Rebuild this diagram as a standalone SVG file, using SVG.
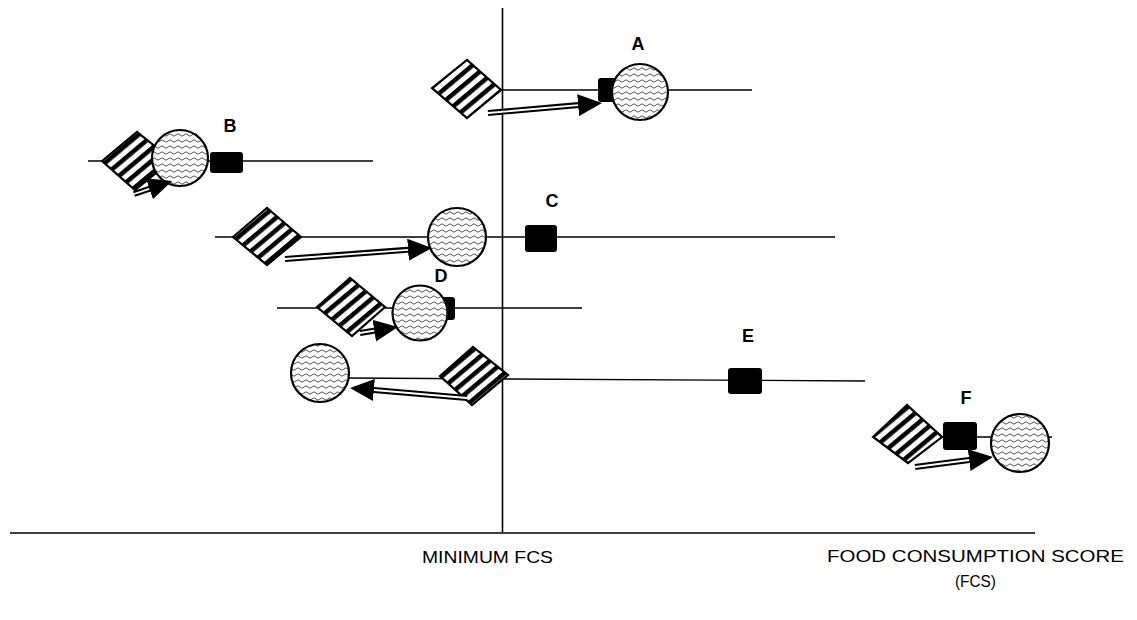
<svg xmlns="http://www.w3.org/2000/svg" width="1137" height="620" viewBox="0 0 1137 620">
<style>
.ax{stroke:#000;stroke-width:1.6;fill:none}
.hl{stroke:#000;stroke-width:1.4;fill:none}
.dia{fill:url(#stripes);stroke:#000;stroke-width:2.2;stroke-linejoin:miter}
.cir{fill:url(#waves);stroke:#000;stroke-width:2.2}
.sq{fill:#000}
.sh{stroke:#000;stroke-width:6;fill:none}
.sw{stroke:#fff;stroke-width:1.8;fill:none}
.lab{font-family:"Liberation Sans",Arial,sans-serif;font-weight:bold;font-size:18px;fill:#000;text-anchor:middle}
.cap{font-family:"Liberation Sans",Arial,sans-serif;font-size:17px;fill:#000}
</style>
<defs>
<pattern id="stripes" patternUnits="userSpaceOnUse" width="20" height="9.5" patternTransform="rotate(-40)">
<rect width="20" height="9.5" fill="#fff"/>
<rect y="0" width="20" height="4.5" fill="#000"/>
</pattern>
<pattern id="waves" patternUnits="userSpaceOnUse" width="8" height="6">
<rect width="8" height="6" fill="#fff"/>
<path d="M0,3 Q2,0.6 4,3 T8,3" stroke="#222" stroke-width="0.8" fill="none"/>
</pattern>
<marker id="head" markerUnits="userSpaceOnUse" markerWidth="24" markerHeight="22" viewBox="0 0 24 22" refX="6" refY="11" orient="auto">
<path d="M0,0 L24,11 L0,22 z" fill="#000"/>
</marker>
</defs>

<g id="axes">
<line class="ax" x1="502.5" y1="8" x2="502.5" y2="532"/>
<line class="ax" x1="10" y1="533" x2="1035" y2="533"/>
</g>

<g id="lines">
<line class="hl" x1="500" y1="90" x2="752" y2="90"/>
<line class="hl" x1="88" y1="161" x2="373" y2="161"/>
<line class="hl" x1="215" y1="237" x2="835" y2="237"/>
<line class="hl" x1="277" y1="308" x2="582" y2="308"/>
<line class="hl" x1="347" y1="378" x2="865" y2="381"/>
<line class="hl" x1="875" y1="437" x2="1052" y2="437"/>
</g>

<g id="nodeA">
<rect class="sq" x="598" y="78" width="28" height="24" rx="3"/>
<polygon class="dia" points="432,88 467,60 501,90 467,118"/>
<circle class="cir" cx="640" cy="92" r="28"/>
<text class="lab" x="638" y="50">A</text>
</g>

<g id="nodeB">
<polygon class="dia" points="102,161 137,132 172,160 135,190"/>
<circle class="cir" cx="180" cy="158" r="28"/>
<rect class="sq" x="210" y="152" width="33" height="21" rx="3"/>
<text class="lab" x="230" y="132">B</text>
</g>

<g id="nodeC">
<polygon class="dia" points="233,237 267,208 301,237 267,265"/>
<circle class="cir" cx="457" cy="237" r="29"/>
<rect class="sq" x="525" y="225" width="32" height="27" rx="3"/>
<text class="lab" x="552" y="207">C</text>
</g>

<g id="nodeD">
<rect class="sq" x="427" y="297" width="28" height="23" rx="3"/>
<polygon class="dia" points="317,307 350,278 385,307 352,336"/>
<circle class="cir" cx="420" cy="313" r="27.5"/>
<text class="lab" x="441" y="282">D</text>
</g>

<g id="nodeE">
<circle class="cir" cx="320" cy="373" r="29"/>
<polygon class="dia" points="440,376 473,347 508,375 472,405"/>
<rect class="sq" x="728" y="368" width="34" height="26" rx="3"/>
<text class="lab" x="748" y="342">E</text>
</g>

<g id="nodeF">
<polygon class="dia" points="873,437 907,405 942,437 908,463"/>
<rect class="sq" x="943" y="422" width="34" height="28" rx="3"/>
<circle class="cir" cx="1020" cy="443" r="29"/>
<text class="lab" x="966" y="404">F</text>
</g>

<g id="connectors">
<line class="sh" x1="488" y1="113" x2="584.1" y2="104.6" marker-end="url(#head)"/>
<line class="sw" x1="488" y1="113" x2="578.1" y2="105.1"/>
<line class="sh" x1="134" y1="194" x2="155" y2="186.8" marker-end="url(#head)"/>
<line class="sw" x1="134" y1="194" x2="149.3" y2="188.8"/>
<line class="sh" x1="285" y1="259" x2="414" y2="249.3" marker-end="url(#head)"/>
<line class="sw" x1="285" y1="259" x2="408.1" y2="249.8"/>
<line class="sh" x1="360" y1="333" x2="380.2" y2="329.8" marker-end="url(#head)"/>
<line class="sw" x1="360" y1="333" x2="374.3" y2="330.7"/>
<line class="sh" x1="467" y1="398" x2="367.9" y2="389.5" marker-end="url(#head)"/>
<line class="sw" x1="467" y1="398" x2="373.9" y2="390"/>
<line class="sh" x1="915" y1="467" x2="975.1" y2="459.3" marker-end="url(#head)"/>
<line class="sw" x1="915" y1="467" x2="969.2" y2="460"/>
</g>

<g id="captions">
<text class="cap" x="422" y="563" textLength="131" lengthAdjust="spacingAndGlyphs">MINIMUM FCS</text>
<text class="cap" x="827" y="562" textLength="297" lengthAdjust="spacingAndGlyphs">FOOD CONSUMPTION SCORE</text>
<text class="cap" x="955" y="587" textLength="41" lengthAdjust="spacingAndGlyphs">(FCS)</text>
</g>
</svg>
